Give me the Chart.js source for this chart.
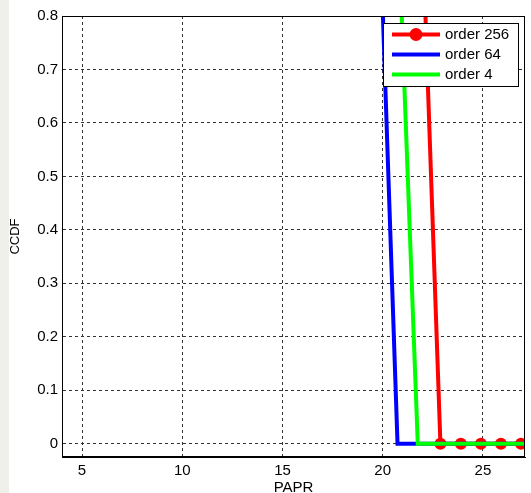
<!DOCTYPE html>
<html>
<head>
<meta charset="utf-8">
<script src="https://cdn.jsdelivr.net/npm/chart.js@4/dist/chart.umd.min.js"></script>
<style>
  html, body { margin: 0; padding: 0; }
  body { background: linear-gradient(to right, #f0f0eb 0 9px, #ffffff 9px); }
  #wrap { position: relative; width: 531px; height: 493px; }
</style>
</head>
<body>
<div id="wrap"><canvas id="grafico"></canvas></div>
<script>
// datos (CCDF vs PAPR)
const seriesNames = ['order 256', 'order 64', 'order 4'];
const seriesColors = ['#ff0000', '#0000ff', '#00ff00'];

const paprOrder256 = [22.04, 22.88, 23.9, 24.9, 25.9, 26.9];
const ccdfOrder256 = [0.9, 0, 0, 0, 0, 0];

const paprOrder64 = [19.92, 20.74, 27.1];
const ccdfOrder64 = [0.9, 0, 0];

const paprOrder4 = [20.85, 21.75, 27.1];
const ccdfOrder4 = [0.9, 0, 0];

const xTicks = [5, 10, 15, 20, 25];
const yTicks = [0, 0.1, 0.2, 0.3, 0.4, 0.5, 0.6, 0.7, 0.8];

const FONT = '"Liberation Sans", Arial, sans-serif';

function puntos(xs, ys) {
    return xs.map((x, i) => ({ x: x, y: ys[i] }));
}

// Caja de ejes y leyenda estilo MATLAB
const matlabPlugin = {
    id: 'matlabBox',
    afterDraw(chart) {
        const { ctx, chartArea } = chart;
        const a = chartArea;
        ctx.save();
        ctx.strokeStyle = '#000';
        ctx.lineWidth = 1;
        ctx.strokeRect(Math.round(a.left) + 0.5, Math.round(a.top) + 0.5,
            Math.round(a.right - a.left) - 1, Math.round(a.bottom - a.top) - 1);

        const w = 135, h = 63, rowH = 20;
        const x0 = Math.round(a.right) - 7 - w;
        const y0 = Math.round(a.top) + 7;
        ctx.fillStyle = '#fff';
        ctx.fillRect(x0, y0, w, h);
        ctx.strokeRect(x0 + 0.5, y0 + 0.5, w, h);

        ctx.font = '15px ' + FONT;
        ctx.textBaseline = 'middle';
        ctx.textAlign = 'left';
        chart.data.datasets.forEach((ds, i) => {
            const yy = y0 + 11.5 + i * rowH;
            ctx.strokeStyle = ds.borderColor;
            ctx.lineWidth = 4;
            ctx.beginPath();
            ctx.moveTo(x0 + 9, yy);
            ctx.lineTo(x0 + 57, yy);
            ctx.stroke();
            if (i === 0) {
                ctx.fillStyle = ds.borderColor;
                ctx.beginPath();
                ctx.arc(x0 + 33, yy, 6.5, 0, Math.PI * 2);
                ctx.fill();
            }
            ctx.fillStyle = '#000';
            ctx.fillText(ds.label, x0 + 62, yy + 0.5);
        });
        ctx.restore();
    }
};

const ctx = document.getElementById('grafico').getContext('2d');
new Chart(ctx, {
    type: 'line',
    data: {
        datasets: [
            {
                label: seriesNames[0], data: puntos(paprOrder256, ccdfOrder256),
                borderColor: seriesColors[0], backgroundColor: seriesColors[0],
                borderWidth: 4, pointRadius: ccdfOrder256.map((v, i) => i === 0 ? 0 : 6),
                pointBorderWidth: 0, pointBackgroundColor: seriesColors[0], order: 3
            },
            {
                label: seriesNames[1], data: puntos(paprOrder64, ccdfOrder64),
                borderColor: seriesColors[1], backgroundColor: seriesColors[1],
                borderWidth: 4, pointRadius: 0, order: 2
            },
            {
                label: seriesNames[2], data: puntos(paprOrder4, ccdfOrder4),
                borderColor: seriesColors[2], backgroundColor: seriesColors[2],
                borderWidth: 4, pointRadius: 0, order: 1
            }
        ]
    },
    options: {
        responsive: true,
        maintainAspectRatio: false,
        animation: false,
        layout: { padding: { top: 16, right: 3, left: 0, bottom: 0 } },
        plugins: { legend: { display: false }, tooltip: { enabled: false } },
        elements: { line: { tension: 0, borderJoinStyle: 'miter', borderCapStyle: 'butt' } },
        scales: {
            x: {
                type: 'linear', min: 4, max: 27.1,
                afterBuildTicks: s => { s.ticks = xTicks.map(v => ({ value: v })); },
                afterFit: s => { s.height = 36; },
                grid: { color: '#333', lineWidth: 1, drawTicks: false },
                border: { display: true, color: '#000', width: 1, dash: [3, 3] },
                ticks: { font: { family: FONT, size: 15 }, color: '#000', padding: 5, maxRotation: 0 },
                title: { display: true, text: 'PAPR', color: '#000', font: { family: FONT, size: 15, lineHeight: 0.75 }, padding: 0 }
            },
            y: {
                type: 'linear', min: -0.025, max: 0.8,
                afterBuildTicks: s => { s.ticks = yTicks.map(v => ({ value: v })); },
                afterFit: s => { s.width = 62; },
                grid: { color: '#333', lineWidth: 1, drawTicks: false },
                border: { display: true, color: '#000', width: 1, dash: [3, 3] },
                ticks: {
                    font: { family: FONT, size: 15 }, color: '#000', padding: 4,
                    callback: v => String(+v.toFixed(1))
                },
                title: { display: true, text: 'CCDF', color: '#000', font: { family: FONT, size: 13 }, padding: { top: 8, bottom: 0 } }
            }
        }
    },
    plugins: [matlabPlugin]
});
</script>
</body>
</html>
